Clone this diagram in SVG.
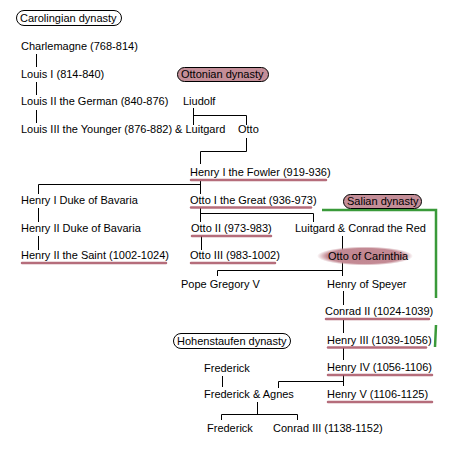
<svg xmlns="http://www.w3.org/2000/svg" width="460" height="460" viewBox="0 0 460 460">
<style>
text{font-family:"Liberation Sans",Arial,sans-serif;font-size:11px;fill:#000}
.c{stroke:#000;stroke-width:1;fill:none}
.u{stroke:#a85464;stroke-width:2.5;stroke-linecap:round;opacity:.85;fill:none}
.pill{stroke:#000;stroke-width:1}
.g{stroke:#3a9a3a;stroke-width:2.5;fill:none}
</style>
<defs>
<radialGradient id="eg" cx="50%" cy="50%" r="50%">
<stop offset="0" stop-color="#c08590"/><stop offset="0.8" stop-color="#c38a94"/><stop offset="1" stop-color="#c38a94" stop-opacity="0"/>
</radialGradient>
</defs>
<rect width="460" height="460" fill="#fff"/>
<g id="connectors">
<path class="c" d="M36.5 54V67M36.5 82V95M36.5 110V123"/>
<path class="c" d="M193.5 108V125M193.5 115.5H246.5V125"/>
<path class="c" d="M246.5 138V151.5H200.5V164"/>
<path class="c" d="M200.5 181V194M38.5 184.5H200.5M38.5 184.5V194"/>
<path class="c" d="M38.5 208V222M38.5 236V250"/>
<path class="c" d="M200.5 208V222M200.5 213.5H313.5V222M201.5 236V250"/>
<path class="c" d="M342.5 236V276M217.5 276V270.5H342.5"/>
<path class="c" d="M343.5 291V305M343.5 320V333M343.5 348V360M343.5 375V386M278.5 388V381.5H343.5"/>
<path class="c" d="M222.5 376V387M257.5 402V414.5M221.5 420V414.5H297.5V420"/>
<path class="g" d="M322 210H436V298M436 325L435 347"/>
</g>
<g id="carolingian"><rect class="pill" x="16.5" y="10.5" width="105" height="15" rx="7.5" fill="#fff"/><text x="20" y="22">Carolingian dynasty</text></g>
<g id="charlemagne"><text x="21" y="50">Charlemagne (768-814)</text></g>
<g id="louis1"><text x="21" y="78">Louis I (814-840)</text></g>
<g id="ottonian"><rect class="pill" x="177.5" y="67.5" width="91" height="14" rx="7" fill="#c48e98"/><text x="181" y="78">Ottonian dynasty</text></g>
<g id="louis2"><text x="21" y="105">Louis II the German (840-876)</text></g>
<g id="liudolf"><text x="183" y="105">Liudolf</text></g>
<g id="louis3"><text x="21" y="133">Louis III the Younger (876-882) &amp; Luitgard</text></g>
<g id="otto"><text x="238" y="133">Otto</text></g>
<g id="henry1"><text x="190" y="176">Henry I the Fowler (919-936)</text><path class="u" d="M191 180H326"/></g>
<g id="henry1bav"><text x="21" y="204">Henry I Duke of Bavaria</text></g>
<g id="otto1"><text x="190" y="204">Otto I the Great (936-973)</text><path class="u" d="M191 207.5H311"/></g>
<g id="salian"><rect class="pill" x="343.5" y="194.5" width="78" height="14" rx="7" fill="#c48e98"/><text x="347" y="205">Salian dynasty</text></g>
<g id="henry2bav"><text x="21" y="232">Henry II Duke of Bavaria</text></g>
<g id="otto2"><text x="191" y="232">Otto II (973-983)</text><path class="u" d="M192 236H271"/></g>
<g id="luitgard"><text x="295" y="232">Luitgard &amp; Conrad the Red</text></g>
<g id="henry2saint"><text x="21" y="259">Henry II the Saint (1002-1024)</text><path class="u" d="M22 263H166"/></g>
<g id="otto3"><text x="190" y="259">Otto III (983-1002)</text><path class="u" d="M191 263H275"/></g>
<g id="carinthia"><ellipse cx="365" cy="256" rx="48" ry="9.5" fill="url(#eg)"/><text x="328" y="260">Otto of Carinthia</text></g>
<g id="gregory"><text x="181" y="288">Pope Gregory V</text></g>
<g id="speyer"><text x="327" y="288">Henry of Speyer</text></g>
<g id="conrad2"><text x="325" y="315">Conrad II (1024-1039)</text><path class="u" d="M326 319H429"/></g>
<g id="hohenstaufen"><rect class="pill" x="173.5" y="333.5" width="117" height="15" rx="7.5" fill="#fff"/><text x="177" y="345">Hohenstaufen dynasty</text></g>
<g id="henry3"><text x="327" y="344">Henry III (1039-1056)</text><path class="u" d="M328 347.5H426"/></g>
<g id="frederick1"><text x="204" y="372">Frederick</text></g>
<g id="henry4"><text x="327" y="371">Henry IV (1056-1106)</text><path class="u" d="M328 375H432"/></g>
<g id="fredagnes"><text x="204" y="398">Frederick &amp; Agnes</text></g>
<g id="henry5"><text x="327" y="398">Henry V (1106-1125)</text><path class="u" d="M328 402H432"/></g>
<g id="frederick2"><text x="207" y="432">Frederick</text></g>
<g id="conrad3"><text x="273" y="432">Conrad III (1138-1152)</text></g>
</svg>
